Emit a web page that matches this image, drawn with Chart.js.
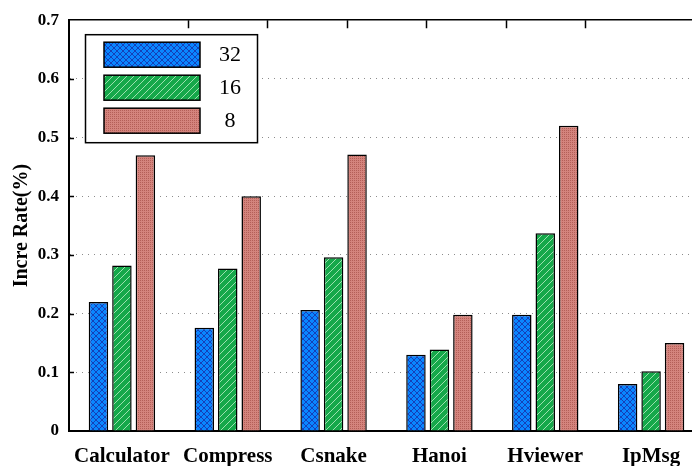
<!DOCTYPE html>
<html>
<head>
<meta charset="utf-8">
<script src="https://cdn.jsdelivr.net/npm/chart.js@4.4.1/dist/chart.umd.min.js"></script>
<style>
  html, body { margin: 0; padding: 0; background: #fff; overflow: hidden; }
  #wrap { width: 692px; height: 466px; overflow: hidden; }
</style>
</head>
<body>
<div id="wrap"><canvas id="myChart" width="704" height="466"></canvas></div>
<script>
// data
const categories = ['Calculator', 'Compress', 'Csnake', 'Hanoi', 'Hviewer', 'IpMsg'];
const seriesNames = ['32', '16', '8'];
const rate32 = [0.220, 0.176, 0.206, 0.130, 0.198, 0.080];
const rate16 = [0.282, 0.277, 0.296, 0.139, 0.337, 0.102];
const rate8 = [0.470, 0.400, 0.471, 0.198, 0.520, 0.150];
const yTicks = [0, 0.1, 0.2, 0.3, 0.4, 0.5, 0.6, 0.7];

//--- hatch fills
function makePattern(kind) {
    const c = document.createElement('canvas');
    const g = c.getContext('2d');
    if (kind === 'cross') {
        c.width = 6; c.height = 6;
        g.fillStyle = '#0a86ff'; g.fillRect(0, 0, 6, 6);
        g.strokeStyle = '#1540b8'; g.lineWidth = 1;
        g.beginPath();
        g.moveTo(0, 0); g.lineTo(6, 6);
        g.moveTo(6, 0); g.lineTo(0, 6);
        g.stroke();
    } else if (kind === 'diag') {
        c.width = 7; c.height = 7;
        g.fillStyle = '#15a84a'; g.fillRect(0, 0, 7, 7);
        g.strokeStyle = '#9be0ae'; g.lineWidth = 1;
        g.beginPath();
        g.moveTo(-1, 8); g.lineTo(8, -1);
        g.stroke();
    } else {
        c.width = 4; c.height = 4;
        g.fillStyle = '#d4847d'; g.fillRect(0, 0, 4, 4);
        g.fillStyle = '#b45f58';
        g.fillRect(0, 0, 1, 1); g.fillRect(2, 2, 1, 1);
        g.fillRect(2, 0, 1, 1); g.fillRect(0, 2, 1, 1);
    }
    return g.createPattern(c, 'repeat');
}

const fills = [makePattern('cross'), makePattern('diag'), makePattern('dots')];

// inward ticks, top ticks and the boxed legend
const framePlugin = {
    id: 'frame',
    afterDraw(chart) {
        const ctx = chart.ctx;
        const area = chart.chartArea;
        const y = chart.scales.y;
        const xt = chart.scales.xt;
        ctx.save();
        ctx.strokeStyle = '#000';
        ctx.lineWidth = 1.5;
        ctx.beginPath();
        yTicks.forEach(function (v) {
            if (v === 0 || v === 0.7) return;
            const py = Math.round(y.getPixelForValue(v)) + 0.5;
            ctx.moveTo(area.left, py); ctx.lineTo(area.left + 5, py);
        });
        for (let k = 1; k < 7; k++) {
            const px = Math.round(xt.getPixelForValue(k)) + 0.5;
            ctx.moveTo(px, area.top); ctx.lineTo(px, area.top + 8);
        }
        ctx.stroke();

        // legend
        const lx = area.left + 16, ly = area.top + 14;
        ctx.fillStyle = '#fff';
        ctx.fillRect(lx, ly, 172, 108);
        ctx.strokeRect(lx + 0.5, ly + 0.5, 172, 108);
        ctx.font = '22px "Liberation Serif"';
        ctx.textAlign = 'center';
        ctx.textBaseline = 'middle';
        chart.data.datasets.forEach(function (ds, i) {
            const sy = ly + 8 + i * 33;
            ctx.fillStyle = ds.backgroundColor;
            ctx.fillRect(lx + 19, sy, 96, 25);
            ctx.strokeRect(lx + 19, sy, 96, 25);
            ctx.fillStyle = '#000';
            ctx.fillText(ds.label, lx + 145, sy + 13);
        });
        ctx.restore();
    }
};

const ctx = document.getElementById('myChart');
const barChart = new Chart(ctx, {
    type: 'bar',
    data: {
        labels: categories,
        datasets: [
            { label: seriesNames[0], data: rate32, backgroundColor: fills[0] },
            { label: seriesNames[1], data: rate16, backgroundColor: fills[1] },
            { label: seriesNames[2], data: rate8, backgroundColor: fills[2] }
        ]
    },
    options: {
        responsive: false,
        animation: false,
        layout: { padding: { top: 18, right: 0, left: 0, bottom: 0 } },
        datasets: {
            bar: {
                borderColor: '#000',
                borderWidth: 1.5,
                categoryPercentage: 0.665,
                barPercentage: 0.83
            }
        },
        plugins: {
            legend: { display: false },
            tooltip: { enabled: false }
        },
        scales: {
            x: {
                grid: { display: false },
                border: { color: '#000', width: 2 },
                ticks: {
                    color: '#000', padding: 5,
                    font: { family: 'Liberation Serif', size: 21, weight: 'bold' }
                },
                afterFit(s) { s.height = 35; }
            },
            xt: {
                type: 'linear', position: 'top', min: 0, max: 7,
                grid: { drawOnChartArea: false, drawTicks: false },
                border: { color: '#000', width: 1.5 },
                ticks: { display: false },
                afterFit(s) { s.height = 0; }
            },
            y: {
                min: 0, max: 0.7,
                afterBuildTicks(s) { s.ticks = yTicks.map(function (v) { return { value: v }; }); },
                grid: {
                    drawTicks: false,
                    color: function (c) { return (c.tick.value === 0 || c.tick.value === 0.7) ? 'rgba(0,0,0,0)' : '#8c8c8c'; },
                    lineWidth: 1
                },
                border: { color: '#000', width: 2, dash: [1, 5] },
                ticks: {
                    color: '#000', padding: 10,
                    font: { family: 'Liberation Serif', size: 17, weight: 'bold' },
                    callback: function (v) { return v === 0 ? '0' : v.toFixed(1); }
                },
                title: {
                    display: true, text: 'Incre Rate(%)', color: '#000',
                    padding: { top: 10, bottom: 0 },
                    font: { family: 'Liberation Serif', size: 20, weight: 'bold' }
                },
                afterFit(s) { s.width = 69; }
            }
        }
    },
    plugins: [framePlugin]
});
</script>
</body>
</html>
